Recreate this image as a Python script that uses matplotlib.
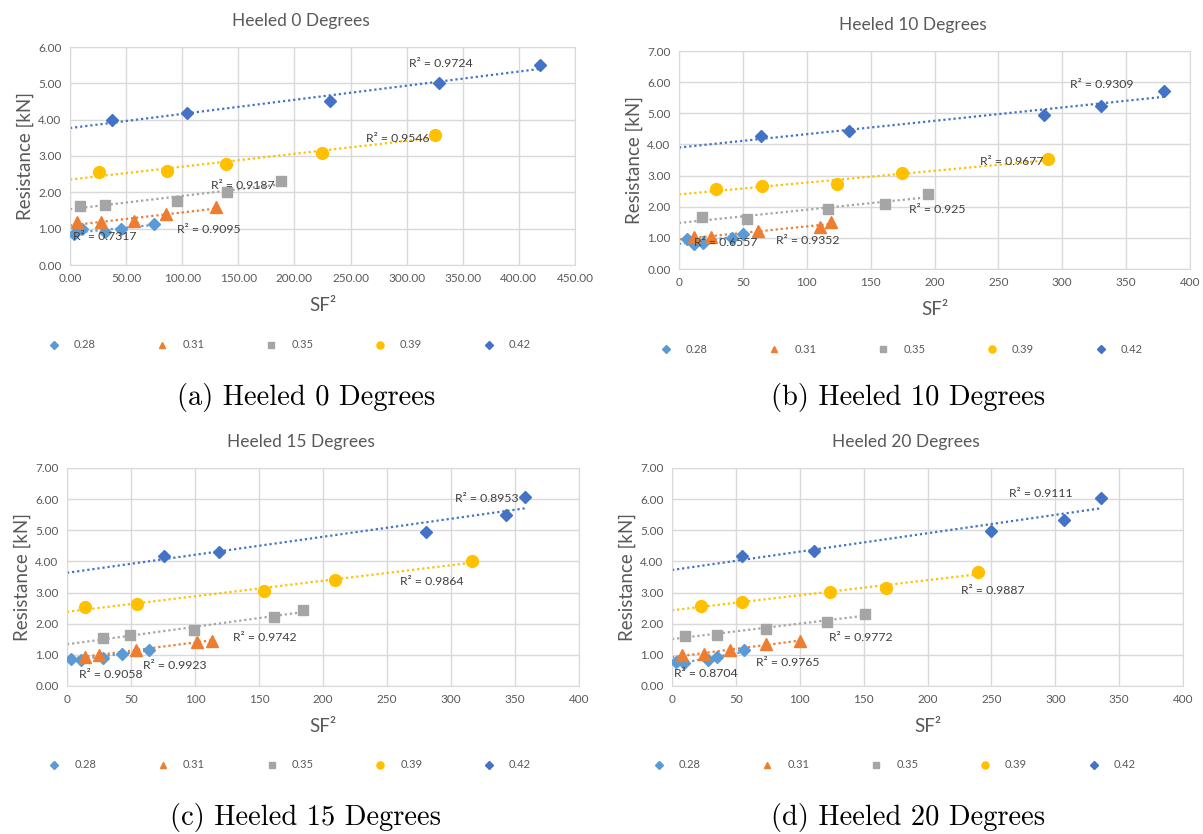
import numpy as np
import matplotlib
matplotlib.use("Agg")
import matplotlib.pyplot as plt
from matplotlib.lines import Line2D
from matplotlib.ticker import MultipleLocator, FormatStrFormatter

plt.rcParams['font.family'] = ['Lato', 'DejaVu Sans']

W, H = 1203, 834

speeds  = ['0.28', '0.31', '0.35', '0.39', '0.42']
colors  = ['#5B9BD5', '#ED7D31', '#A5A5A5', '#FFC000', '#4472C4']
markers = ['D', '^', 's', 'o', 'D']
msizes  = [6.5, 8, 7.5, 8.5, 6.5]

titles   = ['Heeled 0 Degrees', 'Heeled 10 Degrees', 'Heeled 15 Degrees', 'Heeled 20 Degrees']
captions = ['(a) Heeled 0 Degrees', '(b) Heeled 10 Degrees',
            '(c) Heeled 15 Degrees', '(d) Heeled 20 Degrees']

# SF^2 (x) and resistance [kN] (y), one list per speed
sf2_h0 = [[3.4, 10.3, 30.9, 45.6, 74.8],
          [6.5, 27.8, 57.3, 85.8, 130.4],
          [9.3, 31.6, 95.0, 140.0, 187.6],
          [26.0, 86.8, 138.6, 224.7, 325.0],
          [37.0, 104.0, 231.6, 329.0, 418.5]]
res_h0 = [[0.86, 0.98, 0.92, 0.99, 1.13],
          [1.17, 1.17, 1.22, 1.39, 1.59],
          [1.63, 1.66, 1.77, 2.01, 2.30],
          [2.56, 2.58, 2.79, 3.09, 3.58],
          [4.00, 4.17, 4.51, 5.02, 5.50]]

sf2_h10 = [[6.3, 11.7, 19.0, 41.2, 50.0],
           [11.7, 24.7, 62.0, 110.0, 118.8],
           [18.0, 53.2, 117.0, 161.0, 195.0],
           [29.2, 64.7, 123.3, 174.7, 288.7],
           [63.8, 133.0, 285.7, 330.5, 380.0]]
res_h10 = [[0.95, 0.80, 0.83, 0.99, 1.12],
           [1.03, 1.02, 1.22, 1.34, 1.51],
           [1.67, 1.60, 1.93, 2.10, 2.40],
           [2.56, 2.66, 2.73, 3.09, 3.52],
           [4.28, 4.42, 4.94, 5.25, 5.73]]

sf2_h15 = [[3.0, 10.8, 27.9, 43.0, 64.0],
           [13.8, 24.9, 53.7, 101.8, 113.0],
           [28.2, 49.2, 99.4, 162.0, 184.0],
           [13.8, 54.6, 154.0, 209.0, 316.5],
           [76.0, 118.6, 280.7, 343.0, 358.0]]
res_h15 = [[0.87, 0.84, 0.91, 1.03, 1.17],
           [0.92, 1.01, 1.17, 1.42, 1.45],
           [1.54, 1.63, 1.80, 2.23, 2.43],
           [2.53, 2.63, 3.05, 3.41, 4.02],
           [4.18, 4.31, 4.93, 5.50, 6.06]]

sf2_h20 = [[3.0, 9.6, 28.3, 35.5, 56.2],
           [7.8, 24.7, 45.7, 73.7, 100.0],
           [10.2, 35.5, 73.4, 121.5, 151.0],
           [22.6, 54.7, 124.0, 167.8, 239.7],
           [54.7, 111.3, 250.0, 306.5, 336.0]]
res_h20 = [[0.77, 0.73, 0.82, 0.93, 1.14],
           [0.99, 1.02, 1.17, 1.34, 1.45],
           [1.61, 1.65, 1.84, 2.07, 2.31],
           [2.57, 2.70, 3.02, 3.16, 3.65],
           [4.16, 4.35, 4.98, 5.34, 6.04]]

r2_h0  = ['0.7317', '0.9095', '0.9187', '0.9546', '0.9724']
r2_h10 = ['0.6557', '0.9352', '0.925', '0.9677', '0.9309']
r2_h15 = ['0.9058', '0.9923', '0.9742', '0.9864', '0.8953']
r2_h20 = ['0.8704', '0.9765', '0.9772', '0.9887', '0.9111']

# where the R² labels sit (left x, centre y) in data units
r2pos_h0  = [(2.4, 0.79), (95, 0.97), (126, 2.2), (264, 3.48), (302, 5.55)]
r2pos_h10 = [(12, 0.85), (76, 0.90), (180, 1.92), (236, 3.45), (306, 5.93)]
r2pos_h15 = [(9, 0.37), (59, 0.67), (130, 1.56), (260, 3.35), (303, 6.03)]
r2pos_h20 = [(1.5, 0.41), (66, 0.77), (123, 1.57), (226, 3.06), (264, 6.18)]

panels = [
    (sf2_h0, res_h0, r2_h0, r2pos_h0, 450, 6, '%.2f'),
    (sf2_h10, res_h10, r2_h10, r2pos_h10, 400, 7, '%d'),
    (sf2_h15, res_h15, r2_h15, r2pos_h15, 400, 7, '%d'),
    (sf2_h20, res_h20, r2_h20, r2pos_h20, 400, 7, '%d'),
]

# axes boxes in pixels: left, top, right, bottom
boxes = [(70, 47, 575, 265), (679, 51, 1190, 269),
         (67, 468, 579, 686), (672, 468, 1183, 686)]
legend_y = [345, 349, 765, 765]

TXT = '#595959'
GRID = '#D9D9D9'

fig = plt.figure(figsize=(W / 100, H / 100), dpi=100)
fig.patch.set_facecolor('white')

def fx(px):
    return px / W

def fy(py):
    return 1 - py / H

for k, (xs, ys, r2s, r2pos, xmax, ymax, xfmt) in enumerate(panels):
    l, t, r, b = boxes[k]
    ax = fig.add_axes([fx(l), fy(b), (r - l) / W, (b - t) / H])
    ax.set_xlim(0, xmax)
    ax.set_ylim(0, ymax)
    ax.xaxis.set_major_locator(MultipleLocator(50))
    ax.yaxis.set_major_locator(MultipleLocator(1))
    ax.xaxis.set_major_formatter(FormatStrFormatter(xfmt))
    ax.yaxis.set_major_formatter(FormatStrFormatter('%.2f'))
    ax.grid(True, color=GRID, lw=1)
    ax.set_axisbelow(True)
    for s in ax.spines.values():
        s.set_color(GRID)
    ax.tick_params(length=0, labelsize=8.5, labelcolor=TXT, pad=6)

    for i in range(5):
        x = np.array(xs[i])
        y = np.array(ys[i])
        m, c = np.polyfit(x, y, 1)
        xl = np.array([0, x.max()])
        ax.plot(xl, m * xl + c, color=colors[i], lw=1.6, ls=(0, (1, 1.3)), zorder=2)
        ax.plot(x, y, ls='none', marker=markers[i], ms=msizes[i], color=colors[i],
                mec=colors[i], zorder=3)
        ax.text(r2pos[i][0], r2pos[i][1], 'R² = ' + r2s[i], fontsize=8.8,
                color='#404040', va='center', ha='left', zorder=4)

    cx = (l + r) / 2
    fig.text(fx(cx - 22), fy(t - 26), titles[k], ha='center', va='center',
             fontsize=12.5, color=TXT)
    ax.set_ylabel('Resistance [kN]', fontsize=13.5, color=TXT, labelpad=3)
    ax.set_xlabel('SF²', fontsize=13.5, color=TXT, labelpad=9)

    handles = [Line2D([], [], ls='none', marker=markers[i], color=colors[i],
                      ms=msizes[i] * 0.6, label=speeds[i]) for i in range(5)]
    ax.legend(handles=handles, ncol=5, loc='center', frameon=False,
              bbox_to_anchor=(fx(cx - 33), fy(legend_y[k])), bbox_transform=fig.transFigure,
              fontsize=8, labelcolor=TXT, handlelength=1, handletextpad=1.3,
              columnspacing=5.5)

    fig.text(fx(306 if k % 2 == 0 else 908), fy(398 if k < 2 else 818), captions[k],
             ha='center', va='center', fontsize=20.5, family='cmr10')

fig.savefig('out.png', dpi=100, facecolor='white')
